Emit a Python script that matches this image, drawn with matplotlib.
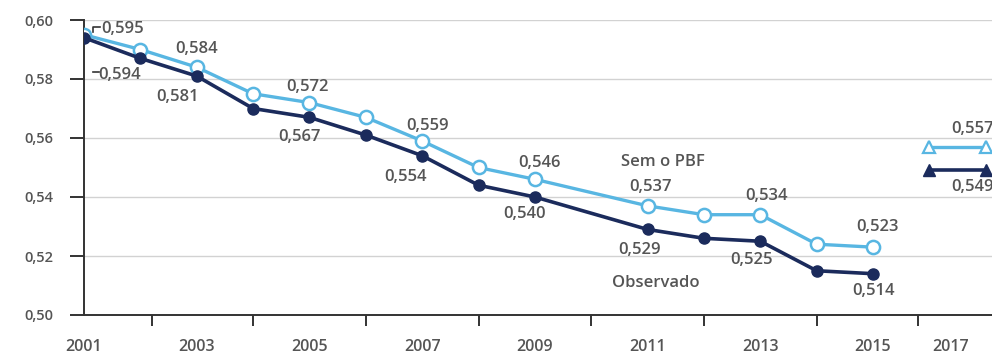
import matplotlib.pyplot as plt

plt.rcParams['font.family'] = ['Open Sans', 'DejaVu Sans']

# Índice de Gini: observado e simulado sem o Programa Bolsa Família
anos = [2001, 2002, 2003, 2004, 2005, 2006, 2007, 2008, 2009, 2011, 2012, 2013, 2014, 2015]
sem_pbf = [0.595, 0.590, 0.584, 0.575, 0.572, 0.567, 0.559, 0.550, 0.546, 0.537, 0.534, 0.534, 0.524, 0.523]
observado = [0.594, 0.587, 0.581, 0.570, 0.567, 0.561, 0.554, 0.544, 0.540, 0.529, 0.526, 0.525, 0.515, 0.514]

# projeção 2017
anos_proj = [2016, 2017]
sem_pbf_proj = [0.557, 0.557]
observado_proj = [0.549, 0.549]

anos_rotulo = [2001, 2003, 2005, 2007, 2009, 2011, 2013, 2015, 2017]
y_ticks = [0.50, 0.52, 0.54, 0.56, 0.58, 0.60]

AZUL_CLARO = '#58b6e2'
AZUL_ESCURO = '#1b2b5c'
CINZA = '#555555'


def fmt(v):
    return f'{v:.3f}'.replace('.', ',')


fig = plt.figure(figsize=(9.92, 3.54), dpi=100)
ax = fig.add_axes([84 / 992, 39 / 354, 1 - 84 / 992, 295 / 354])

ax.plot(anos, sem_pbf, color=AZUL_CLARO, lw=2.4, marker='o', ms=9.5,
        mfc='white', mec=AZUL_CLARO, mew=1.8, zorder=3)
ax.plot(anos, observado, color=AZUL_ESCURO, lw=2.6, marker='o', ms=8,
        mfc=AZUL_ESCURO, mec=AZUL_ESCURO, zorder=3)
ax.plot(anos_proj, sem_pbf_proj, color=AZUL_CLARO, lw=2.4, marker='^', ms=8,
        mfc='white', mec=AZUL_CLARO, mew=1.6, zorder=3, clip_on=False)
ax.plot(anos_proj, observado_proj, color=AZUL_ESCURO, lw=2.6, marker='^', ms=8,
        mfc=AZUL_ESCURO, mec=AZUL_ESCURO, zorder=3, clip_on=False)

# deslocamentos (pixels) dos rótulos de valor
desl_sem = {2003: (0, 18), 2005: (-2, 16), 2007: (5, 15), 2009: (5, 16),
            2011: (3, 19), 2013: (6, 19), 2015: (4, 20)}
desl_obs = {2003: (-19, -21), 2005: (-10, -20), 2007: (-17, -21), 2009: (-10, -17),
            2011: (-8, -21), 2013: (-9, -19), 2015: (0, -17)}

estilo = dict(textcoords='offset pixels', ha='center', va='center',
              fontsize=12, color=CINZA, fontweight='semibold', annotation_clip=False)

for ano, v in zip(anos, sem_pbf):
    if ano in desl_sem:
        ax.annotate(fmt(v), (ano, v), xytext=desl_sem[ano], **estilo)
for ano, v in zip(anos, observado):
    if ano in desl_obs:
        ax.annotate(fmt(v), (ano, v), xytext=desl_obs[ano], **estilo)

# 2001 com linhas de chamada
ax.annotate(fmt(sem_pbf[0]), (anos[0], sem_pbf[0]), xytext=(17, 6),
            **{**estilo, 'ha': 'left'})
ax.annotate(fmt(observado[0]), (anos[0], observado[0]), xytext=(14, -37),
            **{**estilo, 'ha': 'left'})
ax.plot([2001.16, 2001.16, 2001.29], [0.5958, 0.5976, 0.5976], color='#333333', lw=1.2, clip_on=False)
ax.plot([2001.16, 2001.27], [0.5824, 0.5824], color='#333333', lw=1.2, clip_on=False)

# projeção
ax.annotate(fmt(sem_pbf_proj[-1]), (anos_proj[0], sem_pbf_proj[0]), xytext=(22, 18),
            **{**estilo, 'ha': 'left'})
ax.annotate(fmt(observado_proj[-1]), (anos_proj[0], observado_proj[0]), xytext=(22, -17),
            **{**estilo, 'ha': 'left'})

ax.annotate('Sem o PBF', (2011, 0.537), xytext=(15, 44), **estilo)
ax.annotate('Observado', (2011, 0.529), xytext=(8, -54), **estilo)

ax.set_xlim(2001, 2001 + 908 / 56.36)
ax.set_ylim(0.50, 0.60)

ax.set_yticks(y_ticks)
ax.set_yticklabels([f'{v:.2f}'.replace('.', ',') for v in y_ticks])
ax.set_xticks([2001, 2003, 2005, 2007, 2009, 2011, 2013, 2015, 2016.37])
ax.set_xticklabels([str(a) for a in anos_rotulo])
ax.set_xticks([2001, 2002.2, 2004, 2006, 2008, 2010, 2012, 2014, 2015.8], minor=True)

ax.tick_params(axis='y', length=10, width=1.4, color='#333333', pad=12,
               labelsize=10.5, labelcolor=CINZA)
ax.tick_params(axis='x', which='major', length=0, pad=17, labelsize=11.5, labelcolor=CINZA)
ax.tick_params(axis='x', which='minor', length=8, width=1.4, color='#333333')
for lbl in ax.get_xticklabels() + ax.get_yticklabels():
    lbl.set_fontweight('semibold')

ax.grid(axis='y', color='#d2d2d2', lw=1)
ax.set_axisbelow(True)
for s in ['top', 'right']:
    ax.spines[s].set_visible(False)
for s in ['left', 'bottom']:
    ax.spines[s].set_color('#333333')
    ax.spines[s].set_linewidth(1.4)

fig.savefig('out.png', dpi=100)
